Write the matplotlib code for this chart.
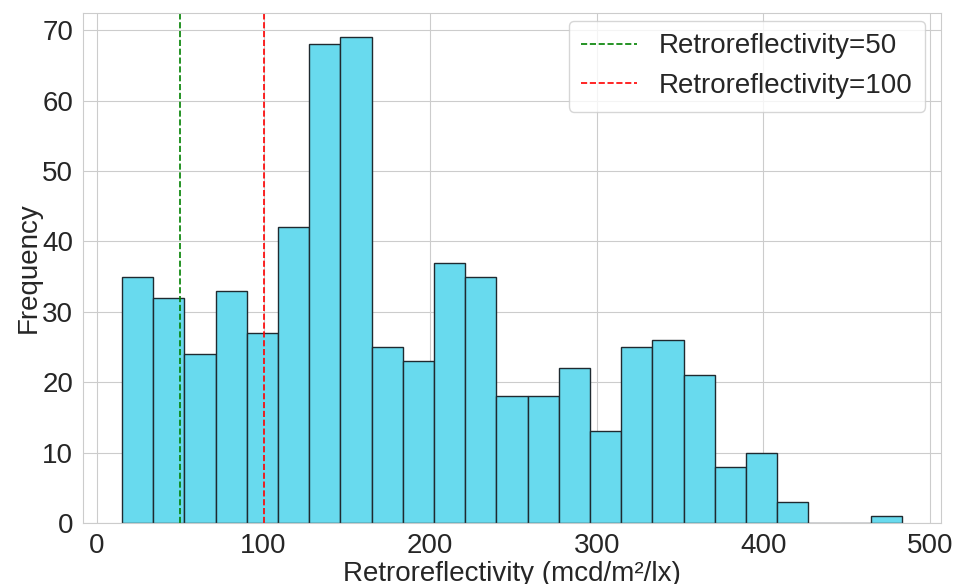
import numpy as np
import matplotlib
matplotlib.use("Agg")
import matplotlib.pyplot as plt
import seaborn as sns

sns.set_style("whitegrid")
plt.rcParams['font.family'] = ['Liberation Sans', 'DejaVu Sans']

# Histogram bins (edges) and counts
bin_start = 15.0
bin_end = 483.2
n_bins = 25
counts = [35, 32, 24, 33, 27, 42, 68, 69, 25, 23, 37, 35, 18, 18, 22, 13,
          25, 26, 21, 8, 10, 3, 0, 0, 1]
ref_lines = [50, 100]
ref_colors = ['green', 'red']
ref_labels = ['Retroreflectivity=50', 'Retroreflectivity=100']

edges = np.linspace(bin_start, bin_end, n_bins + 1)
centers = (edges[:-1] + edges[1:]) / 2

fig = plt.figure(figsize=(9.58, 5.84), dpi=100)
ax = fig.add_axes([0.0866, 0.1045, 0.8957, 0.8732])
ax.hist(centers, bins=edges, weights=counts, facecolor='#68daee',
        edgecolor='#1f2a30', linewidth=1.0)
for x, c, lab in zip(ref_lines, ref_colors, ref_labels):
    ax.axvline(x, color=c, linestyle='--', linewidth=1.2, label=lab)

ax.set_xlabel('Retroreflectivity (mcd/m²/lx)', fontsize=20, labelpad=2)
ax.set_ylabel('Frequency', fontsize=20, labelpad=0.5)
ax.tick_params(labelsize=20)
ax.set_xticks([0, 100, 200, 300, 400, 500])
ax.legend(fontsize=20, loc='upper right', handlelength=2.0,
          borderpad=0.45, bbox_to_anchor=(0.998, 1.012))
fig.savefig('out.png', dpi=100)
